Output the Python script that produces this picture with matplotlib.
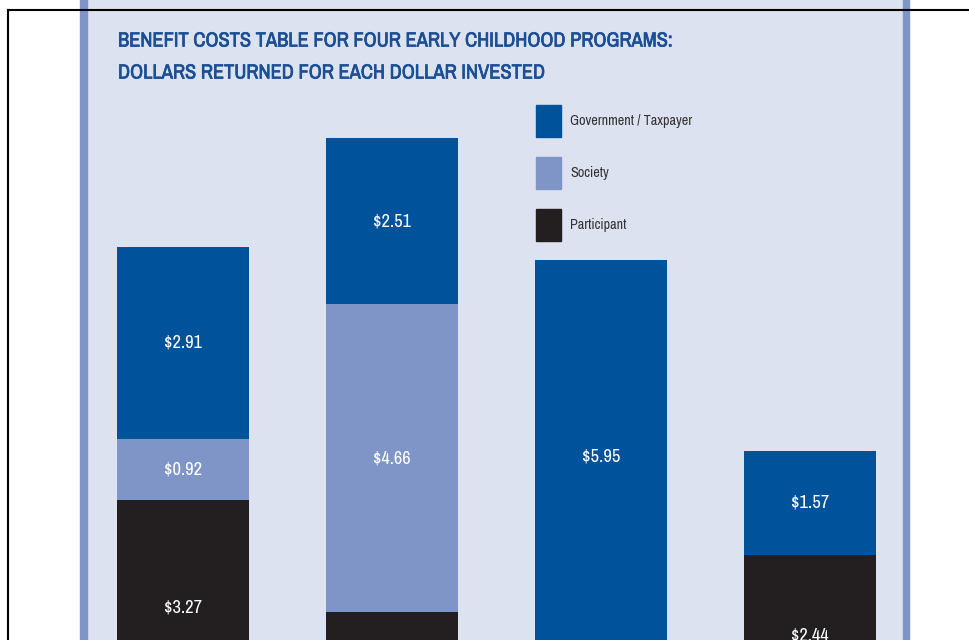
import matplotlib.pyplot as plt
from matplotlib.patches import Rectangle
from matplotlib import font_manager
import matplotlib.patheffects as pe
import numpy as np

# dollars returned per dollar invested
programs = ["Program 1", "Program 2", "Program 3", "Program 4"]
government = [2.91, 2.51, 5.95, 1.57]
society = [0.92, 4.66, 0.00, 0.00]
participant = [3.27, 1.57, 0.95, 2.44]

series_names = ["Government / Taxpayer", "Society", "Participant"]
series_colors = ["#00529b", "#7f95c8", "#231f20"]

title_lines = ["BENEFIT COSTS TABLE FOR FOUR EARLY CHILDHOOD PROGRAMS:",
               "DOLLARS RETURNED FOR EACH DOLLAR INVESTED"]

W, H = 969, 640
fig = plt.figure(figsize=(W / 100, H / 100), dpi=100)
fig.patch.set_facecolor("white")

# look for a narrow face, otherwise fall back to DejaVu
fonts = font_manager.fontManager.ttflist
narrow_font = "DejaVu Sans"
stretch = "normal"
for f in fonts:
    if "Narrow" in f.name or "Condensed" in f.name:
        narrow_font = f.name
        break
else:
    for f in fonts:
        if f.stretch in ("condensed", "semi-condensed", 75, 87.5) and f.name in ("DejaVu Sans", "Roboto", "Open Sans"):
            narrow_font = f.name
            stretch = "condensed"
            break
narrow = [narrow_font, "DejaVu Sans"]

renderer = fig.canvas.get_renderer()


def fit_text(t, width_px):
    # scale font size so the text spans the given pixel width
    w = t.get_window_extent(renderer).width
    t.set_fontsize(t.get_fontsize() * width_px / w)


# panel axes (baseline sits below the visible crop)
ax = fig.add_axes([87 / W, 0, (903 - 87) / W, 1])
ax.set_facecolor("#dde2f0")
ax.set_xlim(-0.459, 3.445)
ax.set_ylim(76 / 66.1, 716 / 66.1)
for s in ax.spines.values():
    s.set_visible(False)
ax.set_xticks([])
ax.set_yticks([])
y_top = ax.get_ylim()[0]

x = np.arange(len(programs))
stack = [participant, society, government]
stack_colors = [series_colors[2], series_colors[1], series_colors[0]]
bottom = np.zeros(len(programs))
for vals, col in zip(stack, stack_colors):
    vals = np.array(vals)
    ax.bar(x, vals, bottom=bottom, width=0.632, color=col, edgecolor="none")
    for xi, b, v in zip(x, bottom, vals):
        mid = b + v / 2
        if v > 0 and mid > y_top:
            t = ax.text(xi, mid, "\\$%.2f" % v, ha="center", va="center",
                        color="white", fontsize=12, family=narrow,
                        fontstretch=stretch)
            fit_text(t, 38)
    bottom += vals

# side stripes of the panel
for x0, x1 in [(80, 87), (903, 909)]:
    fig.patches.append(Rectangle((x0 / W, 0), (x1 - x0) / W, 1,
                                 transform=fig.transFigure, color="#7f95c8"))

# outer black frame
fig.add_artist(plt.Line2D([8 / W, 1], [1 - 10 / H, 1 - 10 / H],
                          transform=fig.transFigure, color="black", lw=1.5))
fig.add_artist(plt.Line2D([8 / W, 8 / W], [0, 1 - 10 / H],
                          transform=fig.transFigure, color="black", lw=1.5))

# title (light stroke thickens the narrow face)
title_color = "#1a4f96"
title_widths = [553, 425]
for i, line in enumerate(title_lines):
    t = fig.text(118 / W, 1 - (41 + 32 * i) / H, line, ha="left", va="center",
                 color=title_color, fontsize=12, fontweight="bold", family=narrow,
                 fontstretch=stretch,
                 path_effects=[pe.withStroke(linewidth=0.5, foreground=title_color)])
    fit_text(t, title_widths[i])

# legend
for i, (name, col) in enumerate(zip(series_names, series_colors)):
    top = 105 + 52 * i
    fig.patches.append(Rectangle((536 / W, 1 - (top + 32) / H), 25 / W, 32 / H,
                                 transform=fig.transFigure, color=col))
    t = fig.text(570 / W, 1 - (top + 16) / H, name, ha="left", va="center",
                 color="#333333", fontsize=10, family=narrow, fontstretch=stretch)
    if i == 0:
        fit_text(t, 122)
        legend_size = t.get_fontsize()
    else:
        t.set_fontsize(legend_size)

fig.savefig("out.png", dpi=100)
